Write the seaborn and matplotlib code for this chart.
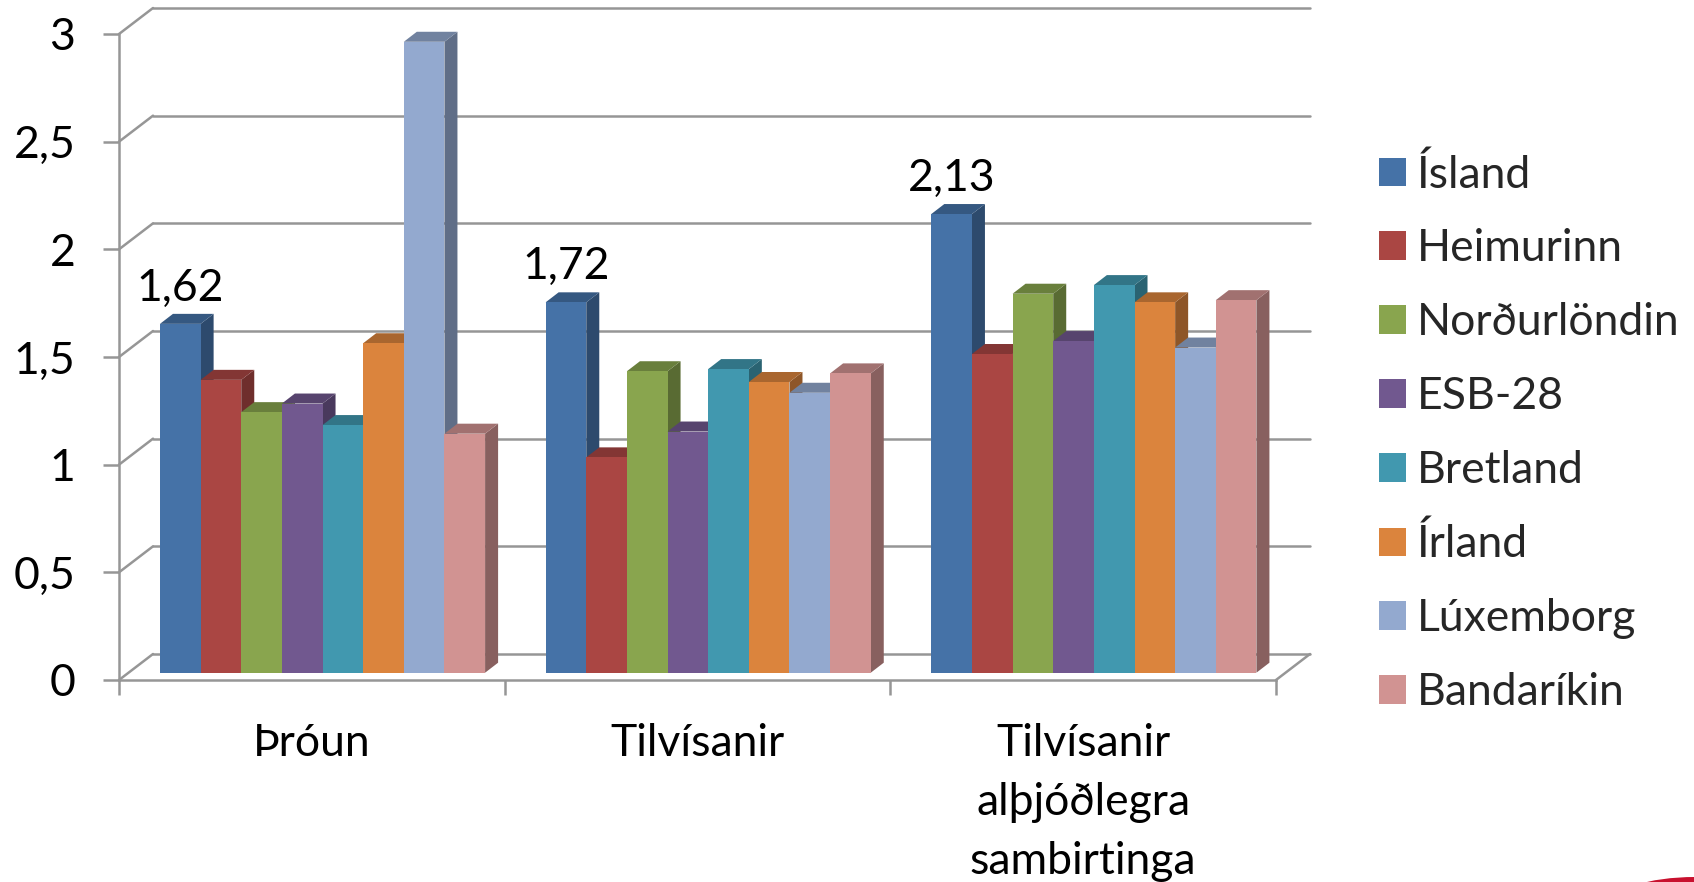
import matplotlib
matplotlib.use("Agg")
import matplotlib.pyplot as plt
from matplotlib.transforms import Affine2D
from matplotlib.patches import Ellipse
import pandas as pd
import seaborn as sns

## DATA
categories = ["Þróun", "Tilvísanir", "Tilvísanir\nalþjóðlegra\nsambirtinga"]
countries = ["Ísland", "Heimurinn", "Norðurlöndin", "ESB-28", "Bretland", "Írland", "Lúxemborg", "Bandaríkin"]
island = [1.62, 1.72, 2.13]
heimurinn = [1.36, 1.00, 1.48]
nordurlondin = [1.21, 1.40, 1.76]
esb28 = [1.25, 1.12, 1.54]
bretland = [1.15, 1.41, 1.80]
irland = [1.53, 1.35, 1.72]
luxemborg = [2.93, 1.30, 1.51]
bandarikin = [1.11, 1.39, 1.73]
y_ticks = [0, 0.5, 1, 1.5, 2, 2.5, 3]
colors = ["#4572A7", "#AA4643", "#89A54E", "#71588F", "#4198AF", "#DB843D", "#93A9CF", "#D19392"]

series = [island, heimurinn, nordurlondin, esb28, bretland, irland, luxemborg, bandarikin]
rows = []
for name, vals in zip(countries, series):
    for cat, v in zip(categories, vals):
        rows.append({"cat": cat, "land": name, "val": v})
df = pd.DataFrame(rows)

## STYLE
sns.set_theme(style="white")
plt.rcParams["font.family"] = ["Lato", "DejaVu Sans"]
FS = 32
GRAY = "#969696"
LW = 1.8
W, H = 1694, 882

fig = plt.figure(figsize=(W / 100, H / 100), dpi=100)

## front plane of the box, carries the axes and tick labels
front = fig.add_axes([119 / W, 1 - 680 / H, 1157 / W, 646 / H])
front.set_xlim(0, 3)
front.set_ylim(0, 3)
front.patch.set_alpha(0)
for s in ["top", "right"]:
    front.spines[s].set_visible(False)
for s in ["left", "bottom"]:
    front.spines[s].set_color(GRAY)
    front.spines[s].set_linewidth(LW)
front.set_yticks(y_ticks)
front.set_yticklabels([str(t).replace(".", ",") for t in y_ticks], fontsize=FS, color="black")
front.set_xticks([0, 1, 2, 3])
front.set_xticklabels([])
front.set_xticks([0.5, 1.5, 2.5], minor=True)
front.set_xticklabels(categories, minor=True, fontsize=FS, color="black", linespacing=1.55)
front.tick_params(axis="y", left=True, length=11.5, width=LW, color=GRAY, pad=20)
front.tick_params(axis="x", which="major", bottom=True, length=11, width=LW, color=GRAY)
front.tick_params(axis="x", which="minor", bottom=False, length=0, pad=31)
for lab in front.get_xticklabels(minor=True):
    lab.set_verticalalignment("top")

## back wall and floor
back = front.transData + Affine2D().translate(34, 26)
for t in y_ticks:
    front.plot([0, 3], [t, t], color=GRAY, lw=LW, transform=back, clip_on=False, zorder=1)
    x0, y0 = front.transData.transform((0, t))
    front.plot([x0, x0 + 34], [y0, y0 + 26], color=GRAY, lw=LW, transform=None, clip_on=False, zorder=1)
x1, y1 = front.transData.transform((3, 0))
front.plot([x1, x1 + 34], [y1, y1 + 26], color=GRAY, lw=LW, transform=None, clip_on=False, zorder=1)

## bars
ax = fig.add_axes([129.7 / W, 1 - 672.7 / H, 1157 / W, 646 / H])
ax.patch.set_alpha(0)
sns.barplot(data=df, x="cat", y="val", hue="land", hue_order=countries, palette=colors,
            saturation=1, width=0.843, gap=0, linewidth=0, ax=ax)
ax.set_xlim(-0.5, 2.5)
ax.set_ylim(0, 3)
ax.axis("off")

## fake depth on every bar
dx = 13 / (1157 / 3)
dy = 10 / (646 / 3)
for k, cont in enumerate(ax.containers):
    c = colors[k]
    r, g, b = matplotlib.colors.to_rgb(c)
    for bar in cont:
        bar.set_zorder(3 + k + 0.5)
        xl = bar.get_x()
        xr = xl + bar.get_width()
        h = bar.get_height()
        ax.fill([xr, xr + dx, xr + dx, xr], [0, dy, h + dy, h], color=(r * 0.65, g * 0.65, b * 0.65),
                lw=0, zorder=3 + k, clip_on=False)
        ax.fill([xl, xl + dx, xr + dx, xr], [h, h + dy, h + dy, h], color=(r * 0.77, g * 0.77, b * 0.77),
                lw=0, zorder=3 + k, clip_on=False)

labels = [f"{v:.2f}".replace(".", ",") for v in island]
ax.bar_label(ax.containers[0], labels=labels, padding=11, fontsize=FS, color="black", zorder=20)

sns.move_legend(ax, loc="upper left", bbox_to_anchor=(1379 / W, 1 - 154 / H), bbox_transform=fig.transFigure,
                title=None, frameon=False, fontsize=FS, handlelength=0.61, handleheight=0.61,
                handletextpad=0.25, labelspacing=0.74, borderpad=0, borderaxespad=0)

## piece of a logo in the bottom corner
fig.add_artist(Ellipse((1695 / W, 1 - 905 / H), 170 / W, 56 / H, transform=fig.transFigure, color="#C8102E", lw=0))

fig.savefig("out.png", dpi=100)
